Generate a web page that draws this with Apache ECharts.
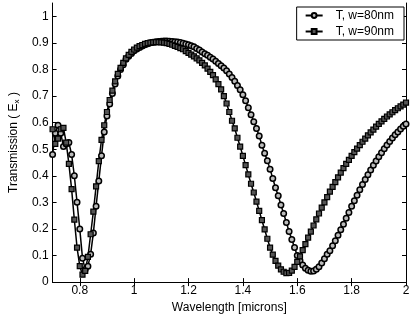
<!DOCTYPE html>
<html>
<head>
<meta charset="utf-8">
<script src="https://cdn.jsdelivr.net/npm/echarts@6/dist/echarts.min.js"></script>
<style>html,body{margin:0;padding:0;background:#fff;}#c{width:415px;height:319px;}</style>
</head>
<body>
<div id="c"></div>
<script>
var wavelength = [0.70,0.71,0.72,0.73,0.74,0.75,0.76,0.77,0.78,0.79,
0.80,0.81,0.82,0.83,0.84,0.85,0.86,0.87,0.88,0.89,
0.90,0.91,0.92,0.93,0.94,0.95,0.96,0.97,0.98,0.99,
1.00,1.01,1.02,1.03,1.04,1.05,1.06,1.07,1.08,1.09,
1.10,1.11,1.12,1.13,1.14,1.15,1.16,1.17,1.18,1.19,
1.20,1.21,1.22,1.23,1.24,1.25,1.26,1.27,1.28,1.29,
1.30,1.31,1.32,1.33,1.34,1.35,1.36,1.37,1.38,1.39,
1.40,1.41,1.42,1.43,1.44,1.45,1.46,1.47,1.48,1.49,
1.50,1.51,1.52,1.53,1.54,1.55,1.56,1.57,1.58,1.59,
1.60,1.61,1.62,1.63,1.64,1.65,1.66,1.67,1.68,1.69,
1.70,1.71,1.72,1.73,1.74,1.75,1.76,1.77,1.78,1.79,
1.80,1.81,1.82,1.83,1.84,1.85,1.86,1.87,1.88,1.89,
1.90,1.91,1.92,1.93,1.94,1.95,1.96,1.97,1.98,1.99,
2.00];

var t80 = [0.48,0.56,0.59,0.56,0.51,0.52,0.525,0.48,0.40,0.30,
0.20,0.09,0.047,0.06,0.105,0.185,0.285,0.38,0.475,0.565,
0.625,0.67,0.71,0.745,0.775,0.80,0.818,0.838,0.85,0.86,
0.87,0.877,0.883,0.888,0.893,0.897,0.90,0.902,0.904,0.905,
0.906,0.907,0.907,0.906,0.905,0.904,0.903,0.901,0.899,0.896,
0.893,0.889,0.885,0.879,0.873,0.866,0.859,0.853,0.846,0.839,
0.831,0.822,0.814,0.805,0.795,0.783,0.77,0.756,0.74,0.724,
0.705,0.682,0.656,0.63,0.603,0.578,0.55,0.515,0.485,0.457,
0.425,0.39,0.355,0.325,0.29,0.258,0.224,0.19,0.16,0.13,
0.10,0.08,0.064,0.052,0.045,0.041,0.042,0.048,0.058,0.072,
0.088,0.105,0.118,0.137,0.156,0.176,0.197,0.218,0.24,0.262,
0.285,0.306,0.327,0.347,0.367,0.386,0.404,0.422,0.44,0.456,
0.472,0.487,0.502,0.516,0.529,0.542,0.554,0.565,0.576,0.586,
0.595];

var t90 = [0.575,0.52,0.54,0.575,0.58,0.525,0.445,0.35,0.235,0.13,
0.06,0.028,0.042,0.095,0.18,0.265,0.36,0.455,0.535,0.59,
0.64,0.685,0.72,0.755,0.783,0.806,0.825,0.842,0.855,0.866,
0.875,0.882,0.888,0.892,0.896,0.899,0.901,0.902,0.903,0.903,
0.902,0.901,0.899,0.896,0.893,0.889,0.885,0.88,0.876,0.869,
0.862,0.856,0.849,0.842,0.834,0.825,0.815,0.803,0.791,0.779,
0.763,0.745,0.725,0.70,0.672,0.64,0.607,0.578,0.543,0.51,
0.475,0.44,0.405,0.37,0.337,0.303,0.268,0.233,0.198,0.163,
0.13,0.103,0.08,0.062,0.048,0.039,0.034,0.035,0.043,0.057,
0.076,0.097,0.12,0.143,0.167,0.19,0.213,0.236,0.258,0.28,
0.30,0.32,0.34,0.358,0.376,0.394,0.412,0.429,0.445,0.46,
0.475,0.489,0.502,0.515,0.528,0.54,0.552,0.563,0.574,0.585,
0.595,0.605,0.614,0.623,0.631,0.639,0.647,0.654,0.661,0.668,
0.675];

var xTicks = [0.8, 1, 1.2, 1.4, 1.6, 1.8, 2];
var yTicks = [0, 0.1, 0.2, 0.3, 0.4, 0.5, 0.6, 0.7, 0.8, 0.9, 1];
var seriesNames = ['T, w=80nm', 'T, w=90nm'];

function pairs(xs, ys) { return xs.map(function (x, i) { return [x, ys[i]]; }); }

var FONT = '"Liberation Sans", Arial, sans-serif';
var chart = echarts.init(document.getElementById('c'), null, {renderer: 'canvas'});
var axisLine = {show: true, lineStyle: {color: '#000', width: 1}};
var tickLine = {color: '#000', width: 1};

chart.setOption({
  animation: false,
  backgroundColor: '#fff',
  grid: {left: 46, right: 9, top: 3, bottom: 33, containLabel: false},
  legend: {
    right: 11, top: 7, orient: 'vertical',
    backgroundColor: '#fff', borderColor: '#000', borderWidth: 1, borderRadius: 0,
    padding: [2, 10, 2, 8], itemGap: 3, itemWidth: 17, itemHeight: 6,
    textStyle: {fontFamily: FONT, fontSize: 12, color: '#000', lineHeight: 13, padding: [0, 0, 0, 8]},
    data: seriesNames
  },
  xAxis: [{
    type: 'value', min: 0.7, max: 2, position: 'bottom',
    name: 'Wavelength [microns]', nameLocation: 'middle', nameGap: 18,
    nameTextStyle: {fontFamily: FONT, fontSize: 12, color: '#000'},
    axisLine: axisLine,
    axisTick: {show: true, inside: true, length: 4, customValues: xTicks, lineStyle: tickLine},
    axisLabel: {customValues: xTicks, margin: 3, fontFamily: FONT, fontSize: 12, color: '#000'},
    splitLine: {show: false}
  }, {
    type: 'value', min: 0.7, max: 2, position: 'top',
    axisLine: axisLine,
    axisTick: {show: true, inside: true, length: 4, customValues: xTicks, lineStyle: tickLine},
    axisLabel: {show: false},
    splitLine: {show: false}
  }],
  yAxis: [{
    type: 'value', min: 0, max: 1.05, position: 'left',
    name: '{t|Transmission ( E}{s|x}{t| )}', nameLocation: 'middle', nameGap: 30,
    nameTextStyle: {fontFamily: FONT, fontSize: 12, color: '#000',
      rich: {t: {fontFamily: FONT, fontSize: 12, color: '#000'},
             s: {fontFamily: FONT, fontSize: 8, color: '#000', padding: [6, 0, 0, 0]}}},
    axisLine: axisLine,
    axisTick: {show: true, inside: true, length: 4, customValues: yTicks, lineStyle: tickLine},
    axisLabel: {customValues: yTicks, margin: 4, fontFamily: FONT, fontSize: 12, color: '#000'},
    splitLine: {show: false}
  }, {
    type: 'value', min: 0, max: 1.05, position: 'right',
    axisLine: axisLine,
    axisTick: {show: true, inside: true, length: 4, customValues: yTicks, lineStyle: tickLine},
    axisLabel: {show: false},
    splitLine: {show: false}
  }],
  series: [{
    name: seriesNames[0], type: 'line', xAxisIndex: 0, yAxisIndex: 0,
    data: pairs(wavelength, t80),
    symbol: 'circle', symbolSize: 5.5, showAllSymbol: true,
    lineStyle: {color: '#000', width: 1.5},
    itemStyle: {color: '#bbb', borderColor: '#000', borderWidth: 1.5},
    emphasis: {disabled: true}
  }, {
    name: seriesNames[1], type: 'line', xAxisIndex: 0, yAxisIndex: 0,
    data: pairs(wavelength, t90),
    symbol: 'rect', symbolSize: 5, showAllSymbol: true,
    lineStyle: {color: '#000', width: 1.5},
    itemStyle: {color: '#555', borderColor: '#000', borderWidth: 1.2},
    emphasis: {disabled: true}
  }]
});
</script>
</body>
</html>
